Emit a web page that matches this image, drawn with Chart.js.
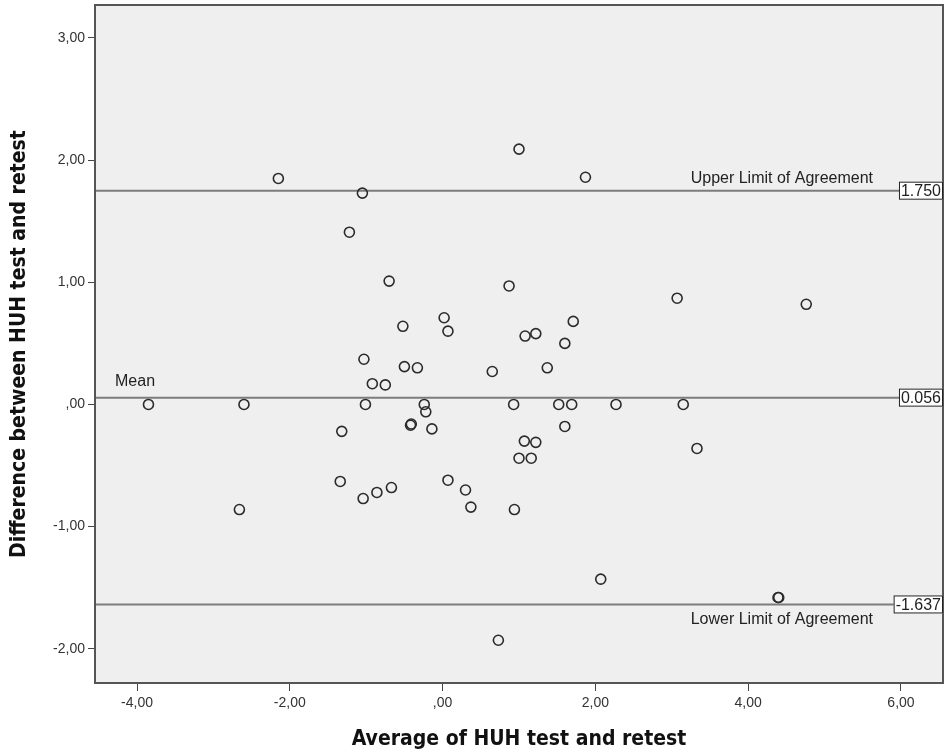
<!DOCTYPE html>
<html>
<head>
<meta charset="utf-8">
<title>HUH test-retest Bland-Altman</title>
<script src="https://cdn.jsdelivr.net/npm/chart.js@4"></script>
<style>
  html, body { margin: 0; padding: 0; background: #fff; }
</style>
</head>
<body>
<canvas id="baChart" width="946" height="755"></canvas>
<script>
// average of test and retest (x) and their difference (y)
const avgScores = [
  -3.85, -2.60, -2.66, -2.15, -1.05, -1.22, -0.70, -0.52, -1.03, -0.92,
  -0.75, -0.50, -0.33, -1.01, -1.32, -0.24, -0.22, -0.42, -0.41, -0.14,
  -1.34, -1.04, -0.86, -0.67, 0.07, 0.30, 0.37, 0.02, 0.07, 0.65,
  0.87, 1.00, 1.08, 1.22, 0.93, 1.00, 1.16, 1.07, 1.22, 0.94,
  0.73, 1.37, 1.52, 1.60, 1.71, 1.60, 1.69, 1.87, 2.07, 2.27,
  3.07, 3.15, 3.33, 4.39, 4.40, 4.76
];
const diffScores = [
  0.00, 0.00, -0.86, 1.85, 1.73, 1.41, 1.01, 0.64, 0.37, 0.17,
  0.16, 0.31, 0.30, 0.00, -0.22, 0.00, -0.06, -0.17, -0.16, -0.20,
  -0.63, -0.77, -0.72, -0.68, -0.62, -0.70, -0.84, 0.71, 0.60, 0.27,
  0.97, 2.09, 0.56, 0.58, 0.00, -0.44, -0.44, -0.30, -0.31, -0.86,
  -1.93, 0.30, 0.00, 0.50, 0.68, -0.18, 0.00, 1.86, -1.43, 0.00,
  0.87, 0.00, -0.36, -1.58, -1.58, 0.82
];

const meanDiff = 0.056;
const upperLoA = 1.750;
const lowerLoA = -1.637;

const xTickValues = [-4, -2, 0, 2, 4, 6];
const yTickValues = [-2, -1, 0, 1, 2, 3];
const xRange = [-4.55, 6.55];
const yRange = [-2.28, 3.27];

// SPSS style numbers: comma decimal, no leading zero
function fmt(v) {
  let s = Math.abs(v).toFixed(2).replace('.', ',');
  if (Math.abs(v) < 1) s = s.replace(/^0/, '');
  return (v < 0 ? '-' : '') + s;
}

function hLine(y) {
  return [{ x: xRange[0], y: y }, { x: xRange[1], y: y }];
}

const points = avgScores.map((x, i) => ({ x: x, y: diffScores[i] }));

const lineStyle = {
  type: 'line',
  showLine: true,
  borderColor: '#7c7c7c',
  borderWidth: 2,
  pointRadius: 0,
  fill: false
};

const captionFont = '16px "Liberation Sans", Arial, sans-serif';
const boxFont = '16px "Liberation Sans", Arial, sans-serif';

const plotDecor = {
  id: 'plotDecor',
  beforeDatasetsDraw(chart) {
    const { ctx, chartArea: a } = chart;
    ctx.save();
    ctx.fillStyle = '#efefef';
    ctx.fillRect(a.left, a.top, a.right - a.left, a.bottom - a.top);
    ctx.restore();
  },
  afterDraw(chart) {
    const { ctx, chartArea: a, scales } = chart;
    const yPx = v => scales.y.getPixelForValue(v);
    ctx.save();

    // frame
    ctx.strokeStyle = '#555';
    ctx.lineWidth = 2;
    ctx.strokeRect(a.left, a.top, a.right - a.left, a.bottom - a.top);

    // line captions
    ctx.font = captionFont;
    ctx.fillStyle = '#222';
    ctx.textAlign = 'right';
    ctx.textBaseline = 'bottom';
    ctx.fillText('Upper Limit of Agreement', a.right - 70, yPx(upperLoA) - 4);
    ctx.textBaseline = 'top';
    ctx.fillText('Lower Limit of Agreement', a.right - 70, yPx(lowerLoA) + 7);
    ctx.textAlign = 'left';
    ctx.textBaseline = 'bottom';
    ctx.fillText('Mean', a.left + 20, yPx(meanDiff) - 8);

    // value boxes at the right edge
    ctx.font = boxFont;
    [upperLoA, meanDiff, lowerLoA].forEach(v => {
      const label = v.toFixed(3);
      const w = ctx.measureText(label).width + 4;
      const y = yPx(v);
      ctx.fillStyle = '#fff';
      ctx.fillRect(a.right - w, y - 9, w, 18);
      ctx.strokeStyle = '#222';
      ctx.lineWidth = 1;
      ctx.strokeRect(a.right - w + 0.5, y - 8.5, w - 1, 17);
      ctx.fillStyle = '#222';
      ctx.textAlign = 'left';
      ctx.textBaseline = 'middle';
      ctx.fillText(label, a.right - w + 2, y + 1);
    });
    ctx.restore();
  }
};

const titleFont = { family: '"Liberation Sans Narrow", "DejaVu Sans Condensed", sans-serif', size: 21, weight: 'bold' };
const tickFont = { family: '"Liberation Sans", Arial, sans-serif', size: 14 };

function noEdgePadding(s) {
  s.paddingTop = 0;
  s.paddingBottom = 0;
  s.paddingLeft = 0;
  s.paddingRight = 0;
}

new Chart(document.getElementById('baChart'), {
  type: 'scatter',
  data: {
    datasets: [
      {
        label: 'Difference',
        data: points,
        pointRadius: 5,
        pointHoverRadius: 5,
        pointBackgroundColor: 'rgba(0,0,0,0)',
        pointBorderColor: '#2b2b2b',
        pointBorderWidth: 1.6
      },
      Object.assign({ label: 'Mean', data: hLine(meanDiff) }, lineStyle),
      Object.assign({ label: 'Upper', data: hLine(upperLoA) }, lineStyle),
      Object.assign({ label: 'Lower', data: hLine(lowerLoA) }, lineStyle)
    ]
  },
  options: {
    responsive: false,
    animation: false,
    devicePixelRatio: 1,
    layout: { autoPadding: false, padding: { top: 5, right: 3, left: 0, bottom: 0 } },
    plugins: {
      legend: { display: false },
      tooltip: { enabled: false }
    },
    scales: {
      x: {
        type: 'linear',
        min: xRange[0],
        max: xRange[1],
        afterBuildTicks: s => { s.ticks = xTickValues.map(v => ({ value: v })); },
        afterFit: s => { s.height = 72; noEdgePadding(s); },
        ticks: { callback: v => fmt(v), font: tickFont, color: '#333', maxRotation: 0, padding: 4 },
        grid: { drawOnChartArea: false, drawTicks: true, tickLength: 8, color: '#444' },
        border: { display: false },
        title: { display: true, text: 'Average of HUH test and retest', font: titleFont, color: '#111', padding: { top: 4, bottom: 3 } }
      },
      y: {
        type: 'linear',
        min: yRange[0],
        max: yRange[1],
        afterBuildTicks: s => { s.ticks = yTickValues.map(v => ({ value: v })); },
        afterFit: s => { s.width = 95; noEdgePadding(s); },
        ticks: { callback: v => fmt(v), font: tickFont, color: '#333', padding: 3 },
        grid: { drawOnChartArea: false, drawTicks: true, tickLength: 7, color: '#444' },
        border: { display: false },
        title: { display: true, text: 'Difference between HUH test and retest', font: titleFont, color: '#111', padding: { top: 7, bottom: 4 } }
      }
    }
  },
  plugins: [plotDecor]
});
</script>
</body>
</html>
